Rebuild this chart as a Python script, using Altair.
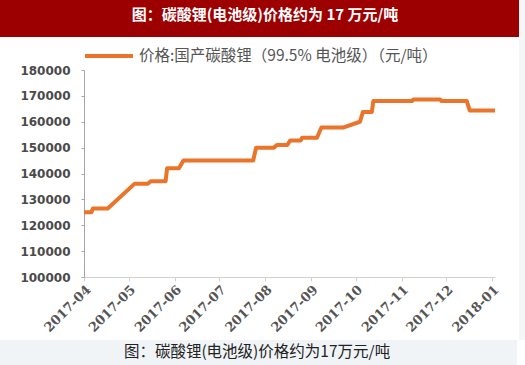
import altair as alt
import pandas as pd

# ---- data ----
dates = ["2017-04-01", "2017-04-06", "2017-04-07", "2017-04-17", "2017-05-05",
         "2017-05-14", "2017-05-16", "2017-05-26", "2017-05-27", "2017-06-04",
         "2017-06-07", "2017-07-24", "2017-07-26", "2017-08-07", "2017-08-09",
         "2017-08-16", "2017-08-18", "2017-08-25", "2017-08-26", "2017-09-05",
         "2017-09-08", "2017-09-23", "2017-10-04", "2017-10-06", "2017-10-12",
         "2017-10-13", "2017-11-08", "2017-11-09", "2017-11-27", "2017-11-28",
         "2017-12-15", "2017-12-17", "2018-01-03"]
prices = [125000, 125000, 126500, 126500, 136000,
          136000, 137000, 137000, 142000, 142000,
          145000, 145000, 150000, 150000, 151000,
          151000, 152800, 152800, 153800, 153800,
          157800, 157800, 160000, 163800, 163800,
          168000, 168000, 168600, 168600, 168000,
          168000, 164300, 164300]
series_name = "价格:国产碳酸锂（99.5%  电池级）（元/吨）"
header_text = "图：碳酸锂(电池级)价格约为 17 万元/吨"
footer_text = "图：碳酸锂(电池级)价格约为17万元/吨"
month_ticks = [(2017, m) for m in range(4, 13)] + [(2018, 1)]

df = pd.DataFrame({"date": dates, "price": prices, "series": series_name})

W, H = 411, 207

line = alt.Chart(df).mark_line(strokeWidth=4, strokeJoin="round").encode(
    x=alt.X("date:T",
            scale=alt.Scale(type="utc", domain=[{"year": 2017, "month": 4, "date": 1, "utc": True},
                                                {"year": 2018, "month": 1, "date": 3, "utc": True}]),
            axis=alt.Axis(values=[alt.DateTime(year=y, month=m, date=1, utc=True) for y, m in month_ticks],
                          labelExpr="utcFormat(datum.value, '%Y-%m')", title=None,
                          labelOverlap=False,
                          labelAngle=-45, labelAlign="right", labelBaseline="top",
                          labelFont="DejaVu Serif", labelFontWeight="bold", labelFontSize=13,
                          labelColor="#555555", labelPadding=2,
                          domainColor="#d0d0d0", tickColor="#d0d0d0", tickSize=4,
                          grid=False)),
    y=alt.Y("price:Q",
            scale=alt.Scale(domain=[100000, 180000], nice=False, zero=False),
            axis=alt.Axis(values=list(range(100000, 180001, 10000)), format="d", title=None,
                          labelFont="DejaVu Sans", labelFontWeight="bold", labelFontSize=12,
                          labelColor="#4a4a4a", labelPadding=11,
                          domainColor="#a6a6a6", tickColor="#a6a6a6", tickSize=3,
                          grid=False)),
    color=alt.Color("series:N", scale=alt.Scale(range=["#EA7429"]),
                    legend=alt.Legend(title=None, orient="none", legendX=-1, legendY=-40,
                                      symbolType="stroke", symbolSize=2300, symbolStrokeWidth=4,
                                      labelFont="Noto Sans CJK SC", labelFontSize=15.5,
                                      labelColor="#555555", labelOffset=4, labelLimit=450)),
)

one = alt.Data(values=[{"k": 1}])

header_band = alt.Chart(one).mark_rect(color="#9c0000").encode(
    x=alt.value(-84), x2=alt.value(435), y=alt.value(-70), y2=alt.value(-33))
header = alt.Chart(one).mark_text(color="white", font="Noto Sans CJK SC", fontWeight="bold",
                                  fontSize=15, align="center", baseline="middle").encode(
    x=alt.value(181), y=alt.value(-55), text=alt.value(header_text))
footer_band = alt.Chart(one).mark_rect(color="#f1f4f7").encode(
    x=alt.value(-84), x2=alt.value(433), y=alt.value(270), y2=alt.value(295))
footer = alt.Chart(one).mark_text(color="#222222", font="Noto Sans CJK SC", fontSize=15.5,
                                  align="center", baseline="middle").encode(
    x=alt.value(173), y=alt.value(282), text=alt.value(footer_text))
right_strip = alt.Chart(one).mark_rect(color="#f5f6f8").encode(
    x=alt.value(435), x2=alt.value(441), y=alt.value(-70), y2=alt.value(270))

chart = alt.layer(header_band, header, footer_band, footer, right_strip, line).properties(
    width=W, height=H,
    autosize=alt.AutoSizeParams(type="none"),
    padding={"left": 84, "top": 70, "right": 30, "bottom": 88},
    background="white",
).configure_view(stroke=None)

chart.save("out.html", embed_options={"renderer": "svg", "actions": False})
